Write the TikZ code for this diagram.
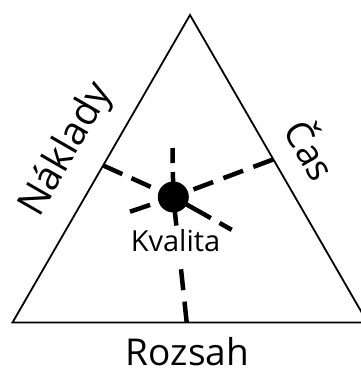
\documentclass[tikz,border=0pt]{standalone}
\usepackage{fontspec}
\setmainfont{Open Sans}
\begin{document}
\begin{tikzpicture}[x=1pt,y=-1pt,
  side/.style={line width=1.8pt, line join=miter},
  conn/.style={line width=4.5pt},
  lab/.style={font=\fontsize{37}{42}\selectfont, inner sep=0pt},
  small/.style={font=\fontsize{29}{35}\selectfont, inner sep=1.5pt, fill=white},
  dot/.style={circle, fill=black, minimum size=31pt, inner sep=0pt}]
\useasboundingbox (0,0) rectangle (360,371);
% triangle
\coordinate (A) at (190,15);
\coordinate (BL) at (12.5,322.5);
\coordinate (BR) at (367.5,322.5);
\draw[side] (A) -- (BL) -- (BR) -- cycle;
% points
\coordinate (qc) at (173.3,197);
\coordinate (L) at (103.2,165.5);
\coordinate (R) at (273,159.5);
\coordinate (B) at (186.7,322.5);
\coordinate (t1) at (172.5,148);
\coordinate (t2) at (130,211.7);
\coordinate (t3) at (232,230);
% bottom connector and label
\draw[conn, dash pattern=on 21pt off 11.5pt] (B) -- (qc);
\node[small, anchor=base] (kv) at (175.5,251.7) {\strut Kvalita};
% side connectors
\draw[conn, dash pattern=on 21pt off 10pt] (L) -- (qc);
\draw[conn, dash pattern=on 21pt off 11pt] (R) -- (qc);
% short rays
\draw[conn, dash pattern=on 25pt off 9pt on 15pt off 20pt] (qc) -- (t1);
\draw[conn, dash pattern=on 14pt off 10.5pt on 21.5pt off 20pt] (qc) -- (t2);
\draw[conn, dash pattern=on 43pt off 10pt on 14pt off 20pt] (qc) -- (t3);
% dot
\node[dot] (q) at (qc) {};
% labels
\node[lab, anchor=base] (rz) at (187.5,365) {Rozsah};
\node[lab, font=\fontsize{39}{44}\selectfont, rotate=60] (nk) at (67,150) {Náklady};
\node[lab, rotate=-60] (cs) at (313,149) {Čas};
\end{tikzpicture}
\end{document}
